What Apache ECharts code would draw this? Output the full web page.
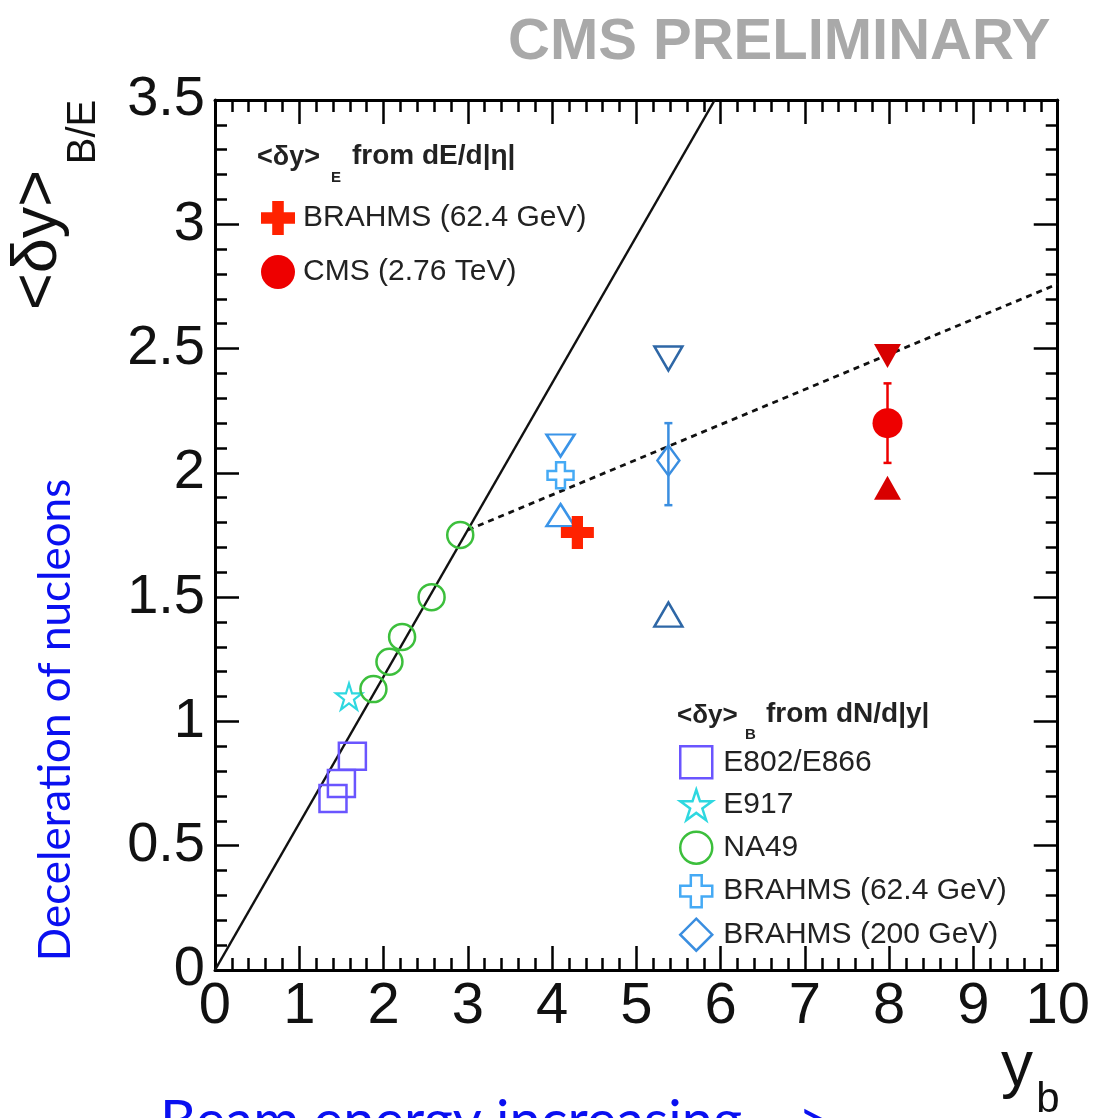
<!DOCTYPE html>
<html>
<head>
<meta charset="utf-8">
<script src="https://cdn.jsdelivr.net/npm/echarts@6/dist/echarts.min.js"></script>
<style>
html,body{margin:0;padding:0;background:#fff;}
#c{width:1093px;height:1118px;}
</style>
</head>
<body>
<div id="c"></div>
<script>
// ---------------- data ----------------
const xTicks = [0,1,2,3,4,5,6,7,8,9,10];
const yTicks = [0,0.5,1,1.5,2,2.5,3,3.5];

const e802X = [1.40, 1.50, 1.63];
const e802Y = [0.69, 0.75, 0.86];

const e917X = [1.59];
const e917Y = [1.10];

const na49X = [1.88, 2.07, 2.22, 2.57, 2.91];
const na49Y = [1.13, 1.24, 1.34, 1.50, 1.75];

const brahms62X = [4.10];
const brahms62Y = [1.99];
const brahms62UpX = [4.10];
const brahms62UpY = [1.83];
const brahms62DownX = [4.10];
const brahms62DownY = [2.11];

const brahms200X = [5.38];
const brahms200Y = [2.05];
const brahms200Lo = [1.87];
const brahms200Hi = [2.20];
const brahms200UpX = [5.38];
const brahms200UpY = [1.43];
const brahms200DownX = [5.38];
const brahms200DownY = [2.46];

const brahmsEX = [4.30];
const brahmsEY = [1.76];

const cmsX = [7.98];
const cmsY = [2.20];
const cmsLo = [2.04];
const cmsHi = [2.36];
const cmsUpX = [7.98];
const cmsUpY = [1.94];
const cmsDownX = [7.98];
const cmsDownY = [2.47];

const fitSolidX = [0.0, 5.93];
const fitSolidY = [0.0, 3.5];
const fitDashX = [3.0, 10.0];
const fitDashY = [1.77, 2.76];

const legendE = ['BRAHMS (62.4 GeV)', 'CMS (2.76 TeV)'];
const legendB = ['E802/E866', 'E917', 'NA49', 'BRAHMS (62.4 GeV)', 'BRAHMS (200 GeV)'];

// ---------------- helpers ----------------
const zip = (a, b) => a.map((v, i) => [v, b[i]]);
const FONT = '"Liberation Sans", Arial, Helvetica, sans-serif';

const PLUS = 'path://M3.3,0 H6.7 V3.3 H10 V6.7 H6.7 V10 H3.3 V6.7 H0 V3.3 H3.3 Z';
const STAR = 'path://M50,0 L61.8,36.2 L100,36.2 L69.1,58.8 L80.9,95.1 L50,72.4 L19.1,95.1 L30.9,58.8 L0,36.2 L38.2,36.2 Z';

function hollow(color, w) {
  return { color: 'rgba(255,255,255,0)', borderColor: color, borderWidth: w || 2.5, opacity: 1 };
}
function filled(color) {
  return { color: color, opacity: 1 };
}

function errorSeries(xs, lo, hi, color) {
  return {
    type: 'custom',
    xAxisIndex: 0, yAxisIndex: 0,
    z: 3,
    silent: true,
    data: xs.map((x, i) => [x, lo[i], hi[i]]),
    encode: { x: 0, y: [1, 2] },
    renderItem: function (params, api) {
      const a = api.coord([api.value(0), api.value(1)]);
      const b = api.coord([api.value(0), api.value(2)]);
      const cap = 4;
      const st = { stroke: color, lineWidth: 2.5 };
      return {
        type: 'group',
        children: [
          { type: 'line', shape: { x1: a[0], y1: a[1], x2: b[0], y2: b[1] }, style: st },
          { type: 'line', shape: { x1: a[0] - cap, y1: a[1], x2: a[0] + cap, y2: a[1] }, style: st },
          { type: 'line', shape: { x1: b[0] - cap, y1: b[1], x2: b[0] + cap, y2: b[1] }, style: st }
        ]
      };
    }
  };
}

const chart = echarts.init(document.getElementById('c'), null, { renderer: 'canvas' });

const axisCommon = {
  type: 'value',
  axisLine: { show: true, onZero: false, lineStyle: { color: '#000', width: 3 } },
  axisTick: { show: true, inside: true, length: 24, lineStyle: { color: '#000', width: 2.5 } },
  minorTick: { show: true, splitNumber: 5, length: 12, lineStyle: { color: '#000', width: 2.5 } },
  splitLine: { show: false }
};

const option = {
  backgroundColor: '#fff',
  animation: false,
  grid: { left: 215, right: 33, top: 100, bottom: 148, containLabel: false },
  xAxis: [
    Object.assign({}, axisCommon, {
      min: 0, max: 10, interval: 1, position: 'bottom',
      axisLabel: { show: true, margin: 8, color: '#111', fontSize: 58, fontFamily: FONT,
        formatter: v => xTicks.includes(v) ? String(v) : '' }
    }),
    Object.assign({}, axisCommon, {
      min: 0, max: 10, interval: 1, position: 'top',
      axisLabel: { show: false }
    })
  ],
  yAxis: [
    Object.assign({}, axisCommon, {
      min: 0, max: 3.5, interval: 0.5, position: 'left',
      axisLabel: { show: true, margin: 10, color: '#111', fontSize: 56, fontFamily: FONT,
        formatter: v => yTicks.includes(v) ? String(v) : '' }
    }),
    Object.assign({}, axisCommon, {
      min: 0, max: 3.5, interval: 0.5, position: 'right',
      axisLabel: { show: false }
    })
  ],
  legend: [
    {
      left: 261, top: 201, orient: 'vertical', padding: 0,
      itemWidth: 34, itemHeight: 34, itemGap: 20,
      selectedMode: false,
      data: ['BRAHMS dE', 'CMS (2.76 TeV)'],
      formatter: n => n === 'BRAHMS dE' ? legendE[0] : legendE[1],
      textStyle: { fontFamily: FONT, fontSize: 30, color: '#222', padding: [0, 0, 0, 3] }
    },
    {
      left: 679, top: 745, orient: 'vertical', padding: 0,
      itemWidth: 32, itemHeight: 32, itemGap: 9,
      selectedMode: false,
      itemStyle: { borderWidth: 2.5 },
      data: legendB,
      textStyle: { fontFamily: FONT, fontSize: 30, color: '#222', padding: [0, 0, 0, 6] }
    }
  ],
  series: [
    { name: 'fitSolid', type: 'line', data: zip(fitSolidX, fitSolidY), symbol: 'none', z: 1,
      lineStyle: { color: '#111', width: 2.5 }, silent: true },
    { name: 'fitDash', type: 'line', data: zip(fitDashX, fitDashY), symbol: 'none', z: 1,
      lineStyle: { color: '#111', width: 2.8, type: [6, 5] }, silent: true },

    { name: 'E802/E866', type: 'scatter', data: zip(e802X, e802Y), symbol: 'rect', symbolSize: 27, z: 4,
      itemStyle: hollow('#6a55ff') },
    { name: 'E917', type: 'scatter', data: zip(e917X, e917Y), symbol: STAR, symbolSize: 26, z: 4,
      itemStyle: hollow('#2ed8e0', 2.2) },
    { name: 'NA49', type: 'scatter', data: zip(na49X, na49Y), symbol: 'circle', symbolSize: 26, z: 4,
      itemStyle: hollow('#3cbf3c') },
    { name: 'BRAHMS (62.4 GeV)', type: 'scatter', data: zip(brahms62X, brahms62Y), symbol: PLUS, symbolSize: 26, z: 4,
      itemStyle: hollow('#45aaf5') },
    { name: 'b62down', type: 'scatter', data: zip(brahms62DownX, brahms62DownY), symbol: 'triangle', symbolRotate: 180,
      symbolSize: [28, 22], z: 4, itemStyle: hollow('#3a94e8') },
    { name: 'b62up', type: 'scatter', data: zip(brahms62UpX, brahms62UpY), symbol: 'triangle',
      symbolSize: [28, 22], z: 4, itemStyle: hollow('#3a94e8') },

    errorSeries(brahms200X, brahms200Lo, brahms200Hi, '#3a8ee0'),
    { name: 'BRAHMS (200 GeV)', type: 'scatter', data: zip(brahms200X, brahms200Y), symbol: 'diamond', symbolSize: [22, 30], z: 4,
      itemStyle: hollow('#3a8ee0') },
    { name: 'b200down', type: 'scatter', data: zip(brahms200DownX, brahms200DownY), symbol: 'triangle', symbolRotate: 180,
      symbolSize: [28, 24], z: 4, itemStyle: hollow('#2e67a6') },
    { name: 'b200up', type: 'scatter', data: zip(brahms200UpX, brahms200UpY), symbol: 'triangle',
      symbolSize: [28, 24], z: 4, itemStyle: hollow('#2e67a6') },

    { name: 'BRAHMS dE', type: 'scatter', data: zip(brahmsEX, brahmsEY), symbol: PLUS, symbolSize: 33, z: 5,
      itemStyle: filled('#ff2200') },

    errorSeries(cmsX, cmsLo, cmsHi, '#ee0000'),
    { name: 'CMS (2.76 TeV)', type: 'scatter', data: zip(cmsX, cmsY), symbol: 'circle', symbolSize: 30, z: 5,
      itemStyle: filled('#ee0000') },
    { name: 'cmsdown', type: 'scatter', data: zip(cmsDownX, cmsDownY), symbol: 'triangle', symbolRotate: 180,
      symbolSize: [27, 24], z: 5, itemStyle: filled('#d80000') },
    { name: 'cmsup', type: 'scatter', data: zip(cmsUpX, cmsUpY), symbol: 'triangle',
      symbolSize: [27, 24], z: 5, itemStyle: filled('#d80000') }
  ],
  graphic: [
    { type: 'text', left: 508, top: 14, z: 10,
      style: { text: 'CMS PRELIMINARY', fontFamily: FONT, fontWeight: 'bold', fontSize: 58, fill: '#a9a9a9' } },
    // y-axis title
    { type: 'text', x: 39, y: 240, rotation: Math.PI / 2, z: 10,
      style: { text: '<δy>', fontFamily: FONT, fontSize: 63, fill: '#111', align: 'center', verticalAlign: 'middle' } },
    { type: 'text', x: 84, y: 132, rotation: Math.PI / 2, z: 10,
      style: { text: 'B/E', fontFamily: FONT, fontSize: 40, fill: '#111', align: 'center', verticalAlign: 'middle' } },
    // x-axis title
    { type: 'text', x: 1017, y: 1068, z: 10,
      style: { text: 'y', fontFamily: FONT, fontSize: 64, fill: '#111', align: 'center', verticalAlign: 'middle' } },
    { type: 'text', x: 1048, y: 1100, z: 10,
      style: { text: 'b', fontFamily: FONT, fontSize: 42, fill: '#111', align: 'center', verticalAlign: 'middle' } },
    // legend headers
    { type: 'text', x: 257, y: 158, z: 10,
      style: { text: '<δy>', fontFamily: FONT, fontWeight: 'bold', fontSize: 27, fill: '#222', verticalAlign: 'middle' } },
    { type: 'text', x: 331, y: 178, z: 10,
      style: { text: 'E', fontFamily: FONT, fontWeight: 'bold', fontSize: 15, fill: '#222', verticalAlign: 'middle' } },
    { type: 'text', x: 352, y: 156, z: 10,
      style: { text: 'from dE/d|η|', fontFamily: FONT, fontWeight: 'bold', fontSize: 28, fill: '#222', verticalAlign: 'middle' } },
    { type: 'text', x: 677, y: 716, z: 10,
      style: { text: '<δy>', fontFamily: FONT, fontWeight: 'bold', fontSize: 26, fill: '#222', verticalAlign: 'middle' } },
    { type: 'text', x: 745, y: 735, z: 10,
      style: { text: 'B', fontFamily: FONT, fontWeight: 'bold', fontSize: 15, fill: '#222', verticalAlign: 'middle' } },
    { type: 'text', x: 766, y: 714, z: 10,
      style: { text: 'from dN/d|y|', fontFamily: FONT, fontWeight: 'bold', fontSize: 28, fill: '#222', verticalAlign: 'middle' } },
    // annotations
    { type: 'text', x: 56, y: 720, rotation: Math.PI / 2, z: 10,
      style: { text: 'Deceleration of nucleons', fontFamily: 'Lato, "Open Sans", sans-serif', fontSize: 44, fill: '#0a10f0',
        align: 'center', verticalAlign: 'middle' } },
    { type: 'text', x: 160, y: 1150, z: 10,
      style: { text: 'Beam energy increasing -->', fontFamily: 'Lato, "Open Sans", sans-serif', fontSize: 56, fill: '#0a10f0',
        align: 'left', verticalAlign: 'bottom' } }
  ]
};

chart.setOption(option);
</script>
</body>
</html>
